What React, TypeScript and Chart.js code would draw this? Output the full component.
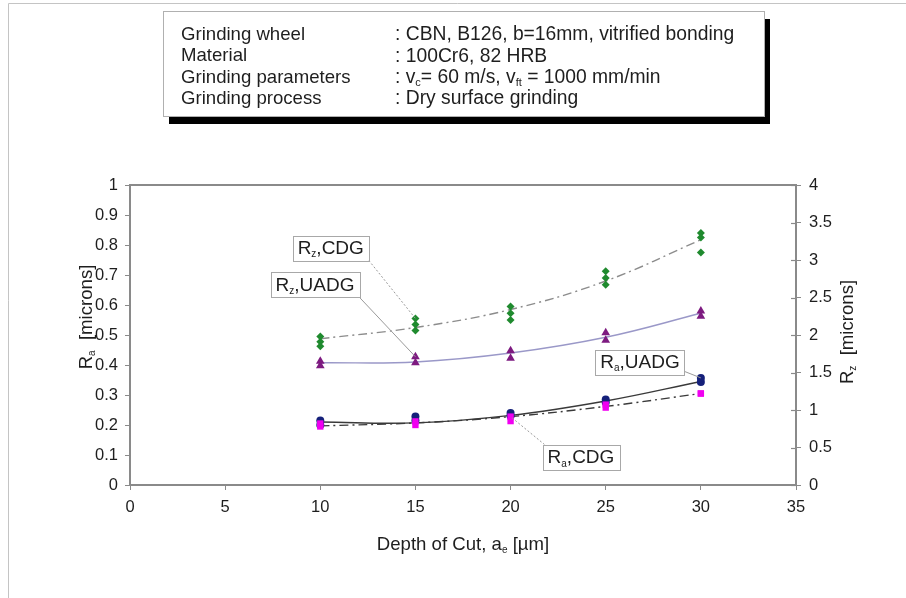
import React, { useEffect, useRef } from "react";
import { Chart, registerables } from "chart.js";

Chart.register(...registerables);

// ---------- data ----------
const depth = [10, 15, 20, 25, 30];

// Rz, CDG (three measurements per depth), right axis
const rzCdgA = [1.98, 2.22, 2.38, 2.85, 3.36];
const rzCdgB = [1.91, 2.14, 2.29, 2.76, 3.3];
const rzCdgC = [1.85, 2.06, 2.2, 2.67, 3.1];
const rzCdgFit = [1.95, 2.1, 2.34, 2.72, 3.27];

// Rz, UADG (two measurements per depth), right axis
const rzUadgA = [1.65, 1.71, 1.79, 2.03, 2.32];
const rzUadgB = [1.59, 1.63, 1.69, 1.93, 2.25];
const rzUadgFit = [1.63, 1.64, 1.76, 1.97, 2.29];

// Ra, UADG, left axis
const raUadgA = [0.215, 0.228, 0.24, 0.285, 0.357];
const raUadgB = [0.2, 0.215, 0.23, 0.275, 0.343];
const raUadgFit = [0.21, 0.207, 0.232, 0.28, 0.345];

// Ra, CDG, left axis
const raCdgA = [0.205, 0.212, 0.228, 0.268, 0.305];
const raCdgB = [0.195, 0.2, 0.213, 0.258, 0.305];
const raCdgFit = [0.197, 0.207, 0.228, 0.262, 0.305];

const infoLabels = ["Grinding wheel", "Material", "Grinding parameters", "Grinding process"];
const infoValues = [
  [[": CBN, B126, b=16mm, vitrified bonding", 0]],
  [[": 100Cr6, 82 HRB", 0]],
  [[": v", 0], ["c", 1], ["= 60 m/s, v", 0], ["ft", 1], [" = 1000 mm/min", 0]],
  [[": Dry surface grinding", 0]],
];

const FONT = "'Liberation Sans', Arial, sans-serif";
const TXT = "#1e1e1e";

const pts = (ys: number[]) => depth.map((x, i) => ({ x, y: ys[i] }));

type Part = [string, number];

function partsWidth(ctx: CanvasRenderingContext2D, parts: Part[], size: number) {
  let w = 0;
  for (const [t, sub] of parts) {
    ctx.font = `${sub ? Math.round(size * 0.55) : size}px ${FONT}`;
    w += ctx.measureText(t).width;
  }
  return w;
}

function drawParts(ctx: CanvasRenderingContext2D, parts: Part[], x: number, y: number, size: number) {
  ctx.textBaseline = "middle";
  ctx.textAlign = "left";
  let cx = x;
  for (const [t, sub] of parts) {
    ctx.font = `${sub ? Math.round(size * 0.55) : size}px ${FONT}`;
    ctx.fillText(t, cx, sub ? y + size * 0.3 : y);
    cx += ctx.measureText(t).width;
  }
}

// annotation labels, positioned in data coordinates (box centre), with leader target
const annotations = [
  { parts: [["R", 0], ["z", 1], [",CDG", 0]] as Part[], cx: 10.55, cy: 3.16, axis: "y2", tx: 15, ty: rzCdgA[1], tAxis: "y2", corner: "br", dash: [2, 2] },
  { parts: [["R", 0], ["z", 1], [",UADG", 0]] as Part[], cx: 9.72, cy: 2.67, axis: "y2", tx: 15, ty: rzUadgA[1], tAxis: "y2", corner: "br", dash: [] },
  { parts: [["R", 0], ["a", 1], [",UADG", 0]] as Part[], cx: 26.8, cy: 0.41, axis: "y", tx: 30, ty: raUadgA[4], tAxis: "y", corner: "rb", dash: [] },
  { parts: [["R", 0], ["a", 1], [",CDG", 0]] as Part[], cx: 23.7, cy: 0.093, axis: "y", tx: 20, ty: raCdgA[2], tAxis: "y", corner: "tl", dash: [2, 2] },
];

const fmt = (v: number) => String(+Number(v).toFixed(2));

const overlay = {
  id: "overlay",
  beforeDraw(chart: any) {
    const { ctx, width, height } = chart;
    ctx.save();
    ctx.fillStyle = "#fff";
    ctx.fillRect(0, 0, width, height);
    ctx.restore();
  },
  afterDatasetsDraw(chart: any) {
    const { ctx, chartArea: a, scales } = chart;
    ctx.save();
    // page frame
    ctx.strokeStyle = "#c4c4c4";
    ctx.lineWidth = 1;
    ctx.beginPath();
    ctx.moveTo(8.5, 598);
    ctx.lineTo(8.5, 3.5);
    ctx.lineTo(906, 3.5);
    ctx.stroke();

    // top plot border
    ctx.strokeStyle = "#8a8a8a";
    ctx.lineWidth = 2;
    ctx.beginPath();
    ctx.moveTo(a.left, a.top);
    ctx.lineTo(a.right, a.top);
    ctx.stroke();

    // right axis: ticks crossing into plot
    ctx.lineWidth = 1.2;
    for (const t of scales.y2.ticks) {
      const py = Math.round(scales.y2.getPixelForValue(t.value)) + 0.5;
      ctx.beginPath();
      ctx.moveTo(a.right - 5, py);
      ctx.lineTo(a.right, py);
      ctx.stroke();
    }

    // info box
    const bx = 163, by = 11, bw = 601, bh = 105;
    ctx.fillStyle = "#000";
    ctx.fillRect(bx + 6, by + 8, bw, bh);
    ctx.fillStyle = "#fff";
    ctx.fillRect(bx, by, bw, bh);
    ctx.strokeStyle = "#b0b0b0";
    ctx.lineWidth = 1;
    ctx.strokeRect(bx + 0.5, by + 0.5, bw, bh);
    ctx.fillStyle = TXT;
    infoLabels.forEach((lab, i) => {
      const ly = 35 + i * 21.3;
      ctx.font = `18.6px ${FONT}`;
      ctx.textBaseline = "middle";
      ctx.textAlign = "left";
      ctx.fillText(lab, 181, ly);
      drawParts(ctx, infoValues[i] as Part[], 395, ly, 19.3);
    });

    // annotation labels
    for (const an of annotations) {
      const size = 19;
      const w = partsWidth(ctx, an.parts, size) + 10;
      const h = 25;
      const cx = scales.x.getPixelForValue(an.cx);
      const cy = scales[an.axis].getPixelForValue(an.cy);
      const l = cx - w / 2, t = cy - h / 2;
      let sx = l + w, sy = t + h;
      if (an.corner === "rb") { sx = l + w; sy = t + h - 3; }
      if (an.corner === "tl") { sx = l + 2; sy = t; }
      const ex = scales.x.getPixelForValue(an.tx);
      const ey = scales[an.tAxis].getPixelForValue(an.ty);
      ctx.strokeStyle = "#9a9a9a";
      ctx.lineWidth = 1;
      ctx.setLineDash(an.dash);
      ctx.beginPath();
      ctx.moveTo(sx, sy);
      ctx.lineTo(ex, ey);
      ctx.stroke();
      ctx.setLineDash([]);
      ctx.fillStyle = "#fff";
      ctx.fillRect(l, t, w, h);
      ctx.strokeStyle = "#a8a8a8";
      ctx.strokeRect(Math.round(l) + 0.5, Math.round(t) + 0.5, Math.round(w), h);
      ctx.fillStyle = TXT;
      drawParts(ctx, an.parts, l + 5, cy + 1, size);
    }

    // axis titles
    ctx.fillStyle = TXT;
    const tsize = 18.6;
    const lt: Part[] = [["R", 0], ["a", 1], ["  [microns]", 0]];
    const rt: Part[] = [["R", 0], ["z", 1], ["  [microns]", 0]];
    for (const [parts, x, y] of [[lt, 87, 317], [rt, 848, 332]] as [Part[], number, number][]) {
      const w = partsWidth(ctx, parts, tsize);
      ctx.save();
      ctx.translate(x, y);
      ctx.rotate(-Math.PI / 2);
      drawParts(ctx, parts, -w / 2, 0, tsize);
      ctx.restore();
    }
    const xt: Part[] = [["Depth of Cut, a", 0], ["e", 1], [" [\u00b5m]", 0]];
    const xw = partsWidth(ctx, xt, 18.6);
    drawParts(ctx, xt, (a.left + a.right) / 2 - xw / 2, 545, 18.6);
    ctx.restore();
  },
};

export default function App() {
  const ref = useRef<HTMLCanvasElement>(null);
  useEffect(() => {
    if (!ref.current) return;
    const green = "#1f8a2e";
    const purple = "#7d1a80";
    const navy = "#15207a";
    const magenta = "#f000f0";
    const markerDs = (data: number[], axis: string, color: string, style: string, r: number, order: number) => ({
      type: "scatter" as const,
      data: pts(data),
      yAxisID: axis,
      showLine: false,
      pointStyle: style,
      pointRadius: r,
      pointBackgroundColor: color,
      pointBorderColor: color,
      pointBorderWidth: 0,
      order,
    });
    const lineDs = (data: number[], axis: string, color: string, dash: number[], width: number) => ({
      type: "line" as const,
      data: pts(data),
      yAxisID: axis,
      showLine: true,
      borderColor: color,
      borderWidth: width,
      borderDash: dash,
      pointRadius: 0,
      tension: 0.4,
      fill: false,
      order: 10,
    });
    const tickFont = { family: FONT, size: 16.5 };
    const chart = new Chart(ref.current, {
      type: "scatter",
      data: {
        datasets: [
          lineDs(rzCdgFit, "y2", "#8c8c8c", [9, 4, 2, 4], 1.4),
          lineDs(rzUadgFit, "y2", "#9a98c8", [], 1.4),
          lineDs(raUadgFit, "y", "#3a3a3a", [], 1.4),
          lineDs(raCdgFit, "y", "#3a3a3a", [9, 4, 2, 4], 1.4),
          markerDs(rzCdgA, "y2", green, "rectRot", 4, 1),
          markerDs(rzCdgB, "y2", green, "rectRot", 4, 1),
          markerDs(rzCdgC, "y2", green, "rectRot", 4, 1),
          markerDs(rzUadgA, "y2", purple, "triangle", 5, 1),
          markerDs(rzUadgB, "y2", purple, "triangle", 5, 1),
          markerDs(raUadgA, "y", navy, "circle", 4, 1),
          markerDs(raUadgB, "y", navy, "circle", 4, 1),
          markerDs(raCdgA, "y", magenta, "rect", 4.5, 0),
          markerDs(raCdgB, "y", magenta, "rect", 4.5, 0),
        ] as any,
      },
      options: {
        responsive: false,
        animation: false,
        devicePixelRatio: 1,
        layout: { padding: { left: 0, right: 0, top: 185, bottom: 0 } },
        plugins: { legend: { display: false }, tooltip: { enabled: false } },
        scales: {
          x: {
            type: "linear",
            min: 0,
            max: 35,
            ticks: { stepSize: 5, color: TXT, font: tickFont, padding: 8, callback: fmt },
            grid: { drawOnChartArea: false, drawTicks: true, tickLength: 5, color: "#8a8a8a" },
            border: { color: "#8a8a8a", width: 2 },
            afterFit: (s: any) => { s.height = 113; },
          },
          y: {
            type: "linear",
            position: "left",
            min: 0,
            max: 1,
            ticks: { stepSize: 0.1, color: TXT, font: tickFont, padding: 7, callback: fmt },
            grid: { drawOnChartArea: false, drawTicks: true, tickLength: 5, color: "#8a8a8a" },
            border: { color: "#8a8a8a", width: 2 },
            afterFit: (s: any) => { s.width = 130; },
          },
          y2: {
            type: "linear",
            position: "right",
            min: 0,
            max: 4,
            ticks: { stepSize: 0.5, color: TXT, font: tickFont, padding: 8, callback: fmt },
            grid: { drawOnChartArea: false, drawTicks: true, tickLength: 5, color: "#8a8a8a" },
            border: { color: "#8a8a8a", width: 2 },
            afterFit: (s: any) => { s.width = 110; },
          },
        },
      } as any,
      plugins: [overlay],
    });
    return () => chart.destroy();
  }, []);
  return (
    <div style={{ position: "fixed", left: 0, top: 0, width: 906, height: 598, background: "#fff" }}>
      <canvas ref={ref} width={906} height={598} style={{ display: "block", width: 906, height: 598 }} />
    </div>
  );
}
